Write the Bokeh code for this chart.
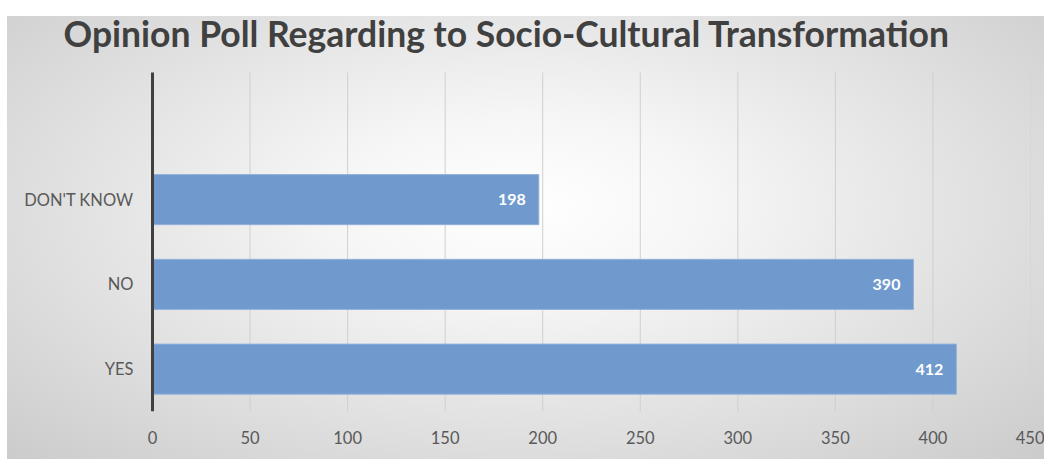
from bokeh.plotting import figure
from bokeh.models import ColumnDataSource, Label, InlineStyleSheet, FixedTicker, Range1d, LabelSet
from bokeh.core.properties import value
from bokeh.embed import file_html
from bokeh.resources import INLINE

categories = ["YES", "NO", "DON'T KNOW"]
counts = [412, 390, 198]
x_ticks = [0, 50, 100, 150, 200, 250, 300, 350, 400, 450]
title_text = "Opinion Poll Regarding to Socio-Cultural Transformation"

ypos = list(range(len(categories)))
src = ColumnDataSource(dict(y=ypos, v=counts, lab=[str(c) for c in counts], cat=categories,
                            zero=[0] * len(categories)))

# layout: plot area spans 339px for 4 category slots; 72px head room for the title,
# 152px room on the left for the category labels; value axis spans 878px for 0..450
Y_LO, Y_HI = -0.5, 3.5
PLOT_PX, HEAD_PX = 339, 72
y_top = Y_HI + HEAD_PX * (Y_HI - Y_LO) / PLOT_PX
X_LO, X_HI = 0, 450
XPLOT_PX, LEFT_PX = 878, 152
x_left = X_LO - LEFT_PX * (X_HI - X_LO) / XPLOT_PX

p = figure(width=1044, height=459, output_backend="svg", toolbar_location=None,
           x_range=Range1d(x_left, X_HI), y_range=Range1d(Y_LO, y_top),
           min_border_left=0, min_border_right=14, min_border_top=0, min_border_bottom=48)
p.background_fill_alpha = 0
p.border_fill_alpha = 0
p.outline_line_color = None
p.stylesheets = [InlineStyleSheet(css=""":host { position: relative; background:
  radial-gradient(ellipse farthest-corner at 50% 45%, #ffffff 0%, #f6f6f6 25%, #e2e2e2 60%, #cbcbcb 100%); }
:host::after { content: ""; position: absolute; left: 0; top: 0; width: 100%; height: 16px; background: #ffffff; z-index: 1000; }
:host::before { content: ""; position: absolute; left: 0; top: 0; width: 7px; height: 100%; background: #ffffff; z-index: 1000; }
""")]

# vertical gridlines limited to the plot area
p.segment(x0=x_ticks, y0=[Y_LO] * len(x_ticks), x1=x_ticks, y1=[Y_HI] * len(x_ticks),
          line_color="#cfcfcf", line_width=1)

p.hbar(y="y", right="v", left=0, height=0.59, source=src,
       fill_color="#7099cd", line_color="#8fb1dc", line_width=1)

# category axis line
p.segment(x0=[0], y0=[Y_LO], x1=[0], y1=[Y_HI], line_color="#404040", line_width=3)

# category labels
p.text(x="zero", y="y", text="cat", source=src, x_offset=-19,
       text_align="right", text_baseline="middle",
       text_font=value("Lato"), text_font_size="16.5px", text_color="#595959")

labels = LabelSet(x="v", y="y", text="lab", source=src, x_offset=-13,
                  text_align="right", text_baseline="middle",
                  text_color="white", text_font=value("Lato"), text_font_style="bold",
                  text_font_size="16px")
p.add_layout(labels)

title = Label(x=0, y=y_top, x_offset=-89, y_offset=-33, text=title_text,
              text_align="left", text_baseline="alphabetic",
              text_font="Lato", text_font_style="bold", text_font_size="35.5px",
              text_color="#404040")
p.add_layout(title)

p.xaxis.ticker = FixedTicker(ticks=x_ticks)
p.xaxis.axis_line_color = None
p.xaxis.major_tick_line_color = None
p.xaxis.minor_tick_line_color = None
p.xaxis.major_label_standoff = 13
p.xaxis.major_label_text_font = "Lato"
p.xaxis.major_label_text_font_size = "16.5px"
p.xaxis.major_label_text_color = "#595959"

p.yaxis.visible = False

p.xgrid.grid_line_color = None
p.ygrid.grid_line_color = None

open("out.html", "w").write(file_html(p, INLINE))
